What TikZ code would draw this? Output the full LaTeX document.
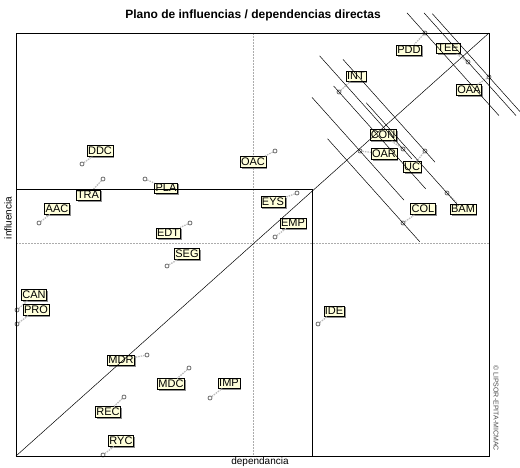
\documentclass[tikz,border=0pt]{standalone}
\usepackage{fontspec}
\setmainfont{Liberation Sans}
\usetikzlibrary{
  calc,
  shadows
}
\definecolor{labelYellow}{rgb}{1,1,0.86}
\definecolor{linkGray}{rgb}{0.74,0.74,0.74}
\definecolor{pointGray}{rgb}{0.42,0.42,0.42}
\newcommand{\varLabel}[3]{\node[varLabel] (l#1) at (#2,#3) {#1};}
\newcommand{\varPoint}[3]{\node[varPoint] (p#1) at (#2,#3) {};}
\tikzset{
  varLabel/.style={
    draw,
    fill=labelYellow,
    inner xsep=1pt,
    inner ysep=1.5pt,
    font=\fontsize{11}{11}\selectfont,
    drop shadow={shadow xshift=1.5pt, shadow yshift=-1.5pt,
      fill=black!55, opacity=0.8}
  }
}
\tikzset{
  varPoint/.style={
    circle,
    draw=pointGray,
    fill=white,
    line width=0.8pt,
    inner sep=0pt,
    minimum size=4pt
  }
}
\tikzset{
  varLink/.style={
    draw=linkGray,
    line width=1.3pt,
    dash pattern=on 1.5pt off 1pt
  },
  perpLine/.style={black, line width=0.5pt},
  frameLine/.style={black, line width=0.8pt},
  midLine/.style={gray!65, line width=0.5pt, dash pattern=on 2pt off 1pt}
}

\begin{document}
\begin{tikzpicture}[x=1pt, y=-1pt]
    \useasboundingbox (0,0) rectangle (520,468);
    \clip (0,0) rectangle (520,468);
    % mean lines
    \draw[midLine] (253,33) -- (253,456);
    \draw[midLine] (16,243) -- (489,243);
    % variables
    \foreach \name/\px/\py/\lx/\ly in {
      DDC/82/164/100/151, TRA/103/179/88/195, PLA/145/179/166/188,
      AAC/39/223/57/209, EDT/190/223/168/233, SEG/167/266/187/254,
      CAN/17/310/34/295, PRO/17/324/36/310, MDR/147/355/121/360,
      REC/124/397/108/412, RYC/103/455/121/441, MDC/189/368/171/384,
      IMP/210/398/229/383, OAC/275/151/253/162, EYS/297/193/273/202,
      EMP/275/237/293/223, IDE/318/324/334/311, PDD/425/33/409/50,
      TEE/468/62/448/48, INT/339/92/356/76, OAA/489/77/469/90,
      CON/403/149/383/135, OAR/360/151/384/154, UC/425/151/412/167,
      COL/403/223/423/209, BAM/447/193/463/209}{
      \varLabel{\name}{\lx}{\ly}
      \varPoint{\name}{\px}{\py}
      \draw[varLink] (p\name) -- (l\name);
    }
    % frame, zones and diagonal
    \draw[frameLine] (16,33) rectangle (489,456);
    \draw[frameLine] (16,189) -- (312,189) -- (312,456);
    \draw[perpLine] (16,456) -- (489,33);
    % lines across the diagonal
    \foreach \name/\a in {PDD/27, TEE/66, OAA/85, CON/125, UC/123,
      INT/8, OAR/72, BAM/121, COL/113}{
      \draw[perpLine]
      ($(p\name)+({-\a*0.667},{-\a*0.745})$) --
      ($(p\name)+({(138-\a)*0.667},{(138-\a)*0.745})$);
    }
    % texts
    \node[font=\fontsize{12}{12}\selectfont\bfseries] (title) at (253,15)
      {Plano de influencias / dependencias directas};
    \node[font=\fontsize{10}{10}\selectfont] (xLabel) at (260,462) {dependancia};
    \node[font=\fontsize{10}{10}\selectfont, rotate=90] (yLabel) at (8,218)
      {influencia};
    \node[font=\fontsize{7}{7}\selectfont, text=black!70, rotate=-90]
      (copyright) at (496,408) {© LIPSOR-EPITA-MICMAC};
\end{tikzpicture}
\end{document}
